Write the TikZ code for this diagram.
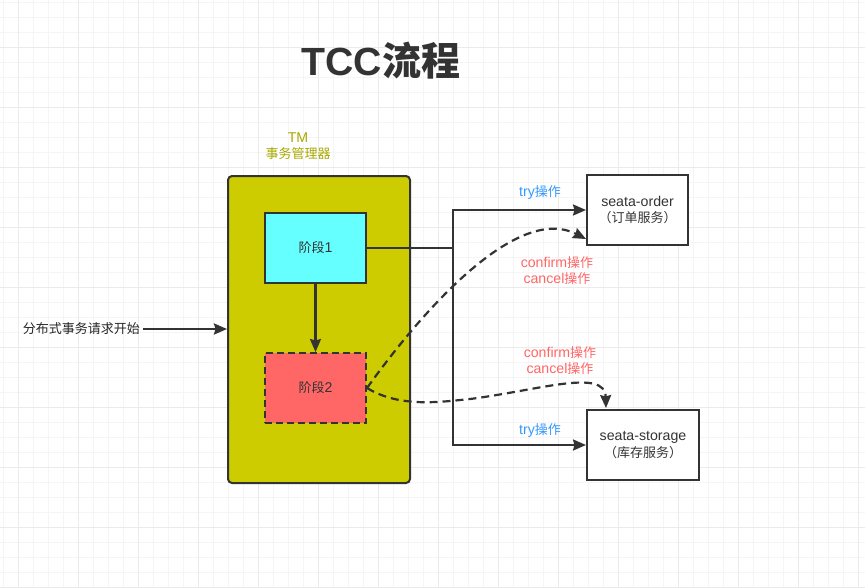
\documentclass[tikz,border=0pt]{standalone}
\usepackage{fontspec}
\setmainfont{Liberation Sans}[Scale=1.09]
\newfontfamily\cjk{Noto Sans CJK SC}
\usetikzlibrary{arrows.meta,calc}
\definecolor{strokec}{HTML}{333333}
\definecolor{olivef}{HTML}{CCCC00}
\definecolor{olivet}{HTML}{A8A800}
\definecolor{cyanf}{HTML}{66FFFF}
\definecolor{redf}{HTML}{FF6666}
\definecolor{tryc}{HTML}{3399FF}
\definecolor{gridminor}{HTML}{F5F5F5}
\definecolor{gridmajor}{HTML}{EBEBEB}
\tikzset{
  box/.style={draw=strokec, line width=2pt, minimum width=101pt, minimum height=70pt, font=\fontsize{13}{16.5}\selectfont, text=black!80, align=center, inner sep=0pt},
  conn/.style={draw=strokec, line width=2.2pt},
  arr/.style={conn, -{Stealth[length=13pt,width=11pt,inset=1.5pt]}},
  dasharr/.style={arr, dash pattern=on 8pt off 5pt},
  lbl/.style={font=\fontsize{13}{16}\selectfont, align=center, inner sep=0pt},
}
\begin{document}
\begin{tikzpicture}[x=1pt,y=-1pt]
\useasboundingbox (0,0) rectangle (865,587);
\fill[white] (0,0) rectangle (865,587);
\foreach \i in {0,...,57} {\draw[gridminor, line width=0.8pt] (3.3+15*\i,0) -- (3.3+15*\i,587);}
\foreach \i in {0,...,39} {\draw[gridminor, line width=0.8pt] (0,2.7+15*\i) -- (865,2.7+15*\i);}
\foreach \i in {0,...,14} {\draw[gridmajor, line width=0.8pt] (18.3+60*\i,0) -- (18.3+60*\i,587);}
\foreach \i in {0,...,9} {\draw[gridmajor, line width=0.8pt] (0,47.7+60*\i) -- (865,47.7+60*\i);}

\node[font=\fontsize{39}{41}\selectfont\bfseries, text=strokec] (title) at (381,61) {{\fontsize{36}{41}\selectfont TCC}{\cjk\bfseries 流程}};

\node[lbl, text=olivet] (tmlabel) at (298,146) {TM\\{\cjk 事务管理器}};
\node[draw=strokec, line width=2pt, fill=olivef, rounded corners=4pt, minimum width=182pt, minimum height=307pt, inner sep=0pt] (tm) at (319,329.5) {};

\node[box, fill=cyanf] (p1) at (315.5,248) {{\cjk 阶段}1};
\node[box, fill=redf, dash pattern=on 7pt off 4pt] (p2) at (315.5,388) {{\cjk 阶段}2};
\draw[arr] (p1.south) -- (p2.north);

\node[lbl, text=black!85, anchor=east] (start) at (140,329) {\cjk 分布式事务请求开始};
\draw[arr] (start.east) ++(3,0) coordinate (s0) (s0) -- (tm.west |- s0);

\node[box, fill=white] (order) at (637.5,210) {seata-order\\{\cjk （订单服务）}};
\node[box, fill=white, minimum width=112pt] (storage) at (643,445) {seata-storage\\{\cjk （库存服务）}};

\coordinate (split) at (453,248);
\draw[conn] (p1.east) -- (split);
\draw[arr] (split) |- (order.west);
\draw[arr] (split) |- (storage.west);
\node[lbl, text=tryc] (try1) at (540,193) {try{\cjk 操作}};
\node[lbl, text=tryc] (try2) at (540,431) {try{\cjk 操作}};

\coordinate (oend) at ($(order.south west)+(0,-7)$);
\coordinate (send) at ($(storage.north west)+(20,-1)$);
\draw[dasharr] (p2.east) .. controls (430,300) and (520,205) .. (oend);
\draw[dasharr] (p2.east) .. controls (400,408) and (440,402) .. (470,399) .. controls (540,390) and (605,368) .. (send);

\node[lbl, text=redf] (cc1) at (557,271) {confirm{\cjk 操作}\\cancel{\cjk 操作}};
\node[lbl, text=redf] (cc2) at (560,361) {confirm{\cjk 操作}\\cancel{\cjk 操作}};
\end{tikzpicture}
\end{document}
